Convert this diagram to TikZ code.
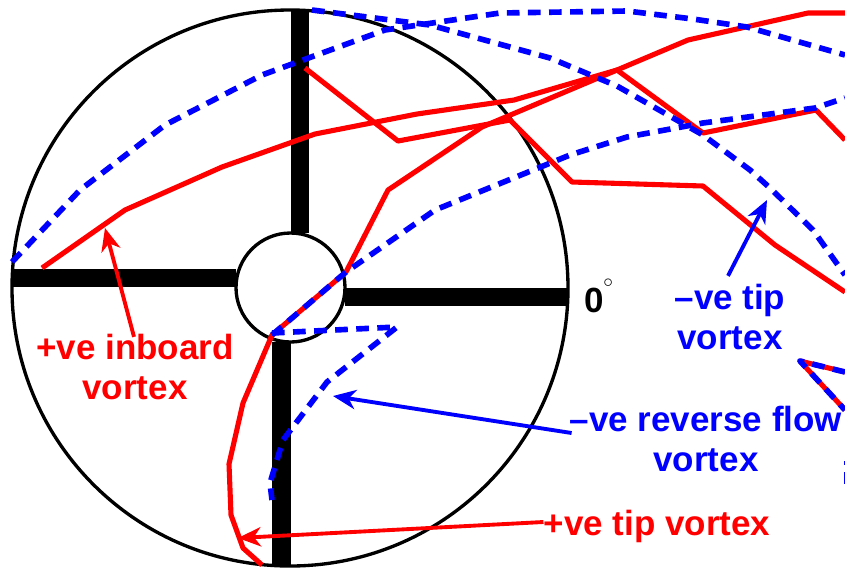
\documentclass[tikz,border=0pt]{standalone}
\usepackage{fontspec}
\setmainfont{Liberation Sans}
\usetikzlibrary{arrows.meta}
\begin{document}
\begin{tikzpicture}[
	x=0.02cm, y=-0.02cm,
	rim/.style={ black, line width=1.9pt },
	spoke/.style={ black, line width=10.8pt },
	redvort/.style={ red, line width=2.9pt, line join=round },
	bluevort/.style={ blue, line width=3.2pt, dash pattern=on 7.2pt off 4.8pt, line join=round },
	redlbl/.style={ red, font=\fontsize{19.9}{22.7}\selectfont\bfseries, align=center, inner sep=0pt },
	bluelbl/.style={ blue, font=\fontsize{19.9}{22.7}\selectfont\bfseries, align=center, inner sep=0pt },
	redarr/.style={ red, line width=2.2pt, -{Stealth[length=13pt,width=11pt,inset=4pt]} },
	bluearr/.style={ blue, line width=2.2pt, -{Stealth[length=13pt,width=11pt,inset=4pt]} }
]
\useasboundingbox (0,0) rectangle (845,569);
\clip (0,0) rectangle (845,569);

\draw[rim] (290,288) circle (278);
\draw[spoke] (300,10) to (300,233);
\draw[spoke] (12,278) to (236,278);
\draw[spoke] (345,297) to (568,297);
\draw[spoke] (281.5,342) to (281.5,566);
\draw[rim,fill=white] (290.5,287.5) circle (54.5);

% red vortices
\draw[redvort] (42,268) -- (125,210) -- (222,167) -- (315,134) -- (417,114) -- (514,100) -- (617,70) -- (688,40) -- (808,13) -- (845,13);
\draw[redvort] (305,68) -- (398,141) -- (510,120) -- (572,182) -- (703,186) -- (775,245) -- (845,292);
\draw[redvort] (262,565) -- (243,548) -- (231,515) -- (229,464) -- (243,403) -- (272,335) -- (346,272) -- (388,190) -- (482,127) -- (617,70) -- (703,133) -- (816,110) -- (845,140);
\draw[redvort] (845,372) -- (800,361) -- (845,410);

% blue vortices
\draw[bluevort] (12,262) -- (80,190) -- (165,125) -- (262,75) -- (385,30) -- (500,13) -- (627,11) -- (693,19) -- (747,27) -- (845,55);
\draw[bluevort] (312,10) -- (430,25) -- (550,58) -- (617,86) -- (703,135) -- (750,170) -- (770,188) -- (813,230) -- (845,275);
\draw[bluevort] (272,335) -- (346,272) -- (435,210) -- (570,155) -- (627,137) -- (703,123) -- (815,108) -- (845,98);
\draw[bluevort] (272,333) -- (397,327) -- (327,382) -- (283,440) -- (270,483) -- (272,500);
\draw[bluevort] (845,372) -- (800,361) -- (845,410);
\fill[blue] (844,461) rectangle (845,465);
\fill[blue] (844,472) rectangle (845,484);

% labels
\node[redlbl] at (135,367) (inboardlbl) {+ve inboard\\vortex};
\node[bluelbl] at (730,317) (negtiplbl) {–ve tip\\vortex};
\node[bluelbl] at (706,439) (reverselbl) {–ve reverse flow\\vortex};
\node[redlbl] at (657,526) (postiplbl) {+ve tip vortex};
\node[inner sep=0pt, font=\fontsize{19.9}{22.7}\selectfont\bfseries] at (599,296) (zerolbl) {0\raisebox{9pt}{\fontsize{15}{15}\selectfont\normalfont$^\circ$}};

\coordinate (inboardtip) at (105,228);
\coordinate (negtiptip) at (767,200);
\coordinate (reversetip) at (333,396);
\coordinate (postiptip) at (238,538);

\draw[redarr] (inboardlbl.north) ++(-1,3) to (inboardtip);
\draw[bluearr] (negtiplbl.north) ++(-2,-8) to (negtiptip);
\draw[bluearr] (reverselbl.west) ++(2,-6) to (reversetip);
\draw[redarr] (postiplbl.west) ++(0,-4) to (postiptip);

\end{tikzpicture}
\end{document}
